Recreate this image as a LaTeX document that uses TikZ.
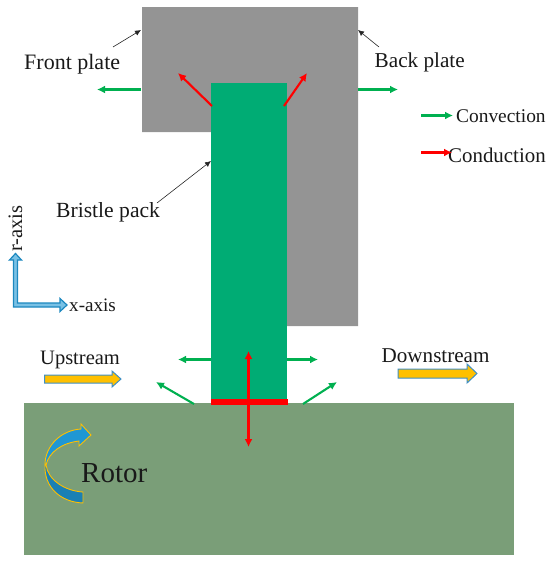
\documentclass[tikz,border=0pt]{standalone}
\usepackage{fontspec}
\setmainfont{Liberation Serif}
\usetikzlibrary{arrows.meta}
\definecolor{plategray}{HTML}{949494}
\definecolor{packgreen}{HTML}{00AC74}
\definecolor{rotorgreen}{HTML}{7A9E78}
\definecolor{convgreen}{HTML}{00B050}
\definecolor{axisblue}{HTML}{1F97D4}
\definecolor{flowyellow}{HTML}{FFC000}
\definecolor{flowedge}{HTML}{3F8FC4}
\tikzset{
  x=1pt,y=-1pt,
  lbl/.style={inner sep=0pt,anchor=base west,text=black!90,font=\fontsize{#1}{24}\selectfont},
  pointer/.style={draw=black!85,line width=0.6pt,-{Latex[length=6pt,width=5.5pt]}},
  conv/.style={draw=convgreen,line width=2.1pt,-{Latex[length=8pt,width=8pt]}},
  cond/.style={draw=red,line width=2.1pt,-{Latex[length=8pt,width=8pt]}},
  blockarrow/.style={draw=flowedge,fill=flowyellow,line width=1pt,line join=miter},
}
\begin{document}
\begin{tikzpicture}
\useasboundingbox (0,0) rectangle (550,565);
% plates, rotor, pack
\fill[plategray] (142,7) -- (358,7) -- (358,326) -- (287,326) -- (287,132) -- (142,132) -- cycle;
\fill[rotorgreen] (24,403) rectangle (514,555);
\fill[packgreen] (211,83) rectangle (287,403);
\fill[red] (211,399) rectangle (288,405);
% labels
\node[lbl=22] (front) at (24,69) {Front plate};
\node[lbl=21.2] (back) at (374.5,67) {Back plate};
\node[lbl=21.6] (pack) at (56,217) {Bristle pack};
\node[lbl=19.4] (convl) at (456,122) {Convection};
\node[lbl=20.9] (condl) at (448,162) {Conduction};
\node[lbl=20.5] (up) at (40,364) {Upstream};
\node[lbl=21.1] (down) at (381.5,362) {Downstream};
\node[lbl=19.1] (xl) at (69,311) {x-axis};
\node[lbl=20.5,rotate=90] (rl) at (22,252) {r-axis};
\node[lbl=29] (rotor) at (81,482) {Rotor};
% pointers
\coordinate (fs) at (113,47); \coordinate (fe) at (141,30);
\coordinate (bs) at (379,47); \coordinate (be) at (358,30);
\coordinate (ps) at (157,203); \coordinate (pe) at (211,161);
\draw[pointer] (fs) -- (fe);
\draw[pointer] (bs) -- (be);
\draw[pointer] (ps) -- (pe);
% convection
\coordinate (c1s) at (141,89.5); \coordinate (c1e) at (97,89.5);
\coordinate (c2s) at (358,89.5); \coordinate (c2e) at (398,89.5);
\coordinate (c3s) at (421,115.5); \coordinate (c3e) at (453,115.5);
\coordinate (c4s) at (211,359.5); \coordinate (c4e) at (178,359.5);
\coordinate (c5s) at (287,359.5); \coordinate (c5e) at (318,359.5);
\coordinate (c6s) at (194,404); \coordinate (c6e) at (156,382);
\coordinate (c7s) at (303,404); \coordinate (c7e) at (337,382);
\foreach \n in {1,...,7} \draw[conv] (c\n s) -- (c\n e);
% conduction
\coordinate (r1s) at (212,106); \coordinate (r1e) at (178,73);
\coordinate (r2s) at (284,106); \coordinate (r2e) at (307,73);
\coordinate (r3s) at (421,152.5); \coordinate (r3e) at (452,152.5);
\coordinate (r4s) at (248.5,447); \coordinate (r4e) at (248.5,351);
\draw[cond] (r1s) -- (r1e);
\draw[cond] (r2s) -- (r2e);
\draw[cond] (r3s) -- (r3e);
\draw[cond,{Latex[length=8pt,width=8pt]}-{Latex[length=8pt,width=8pt]}] (r4s) -- (r4e);
% axes
\draw[draw=axisblue!90!black,fill=axisblue!60,line width=1.2pt,line join=miter]
  (13.5,306.5) -- (13.5,260) -- (9.5,260) -- (15.5,253.5) -- (21.5,260) -- (17.5,260)
  -- (17.5,303) -- (60,303) -- (60,298.5) -- (67,305) -- (60,311.5) -- (60,307) -- (13.5,307) -- cycle;
% flow arrows
\draw[blockarrow] (44.5,375) -- (112,375) -- (112,371) -- (121,379) -- (112,387) -- (112,383) -- (44.5,383) -- cycle;
\draw[blockarrow] (398,369) -- (467,369) -- (467,364) -- (477,373.5) -- (467,383) -- (467,378) -- (398,378) -- cycle;
% rotation arrow
\draw[draw=flowyellow,fill=axisblue!85!black,line width=0.9pt,line join=miter]
  (46,465) .. controls (48,480) and (65,491) .. (83,492) -- (83,503)
  .. controls (60,502) and (44,487) .. (45,465) -- cycle;
\draw[draw=flowyellow,fill=axisblue,line width=0.9pt,line join=miter]
  (45,465) .. controls (45,445) and (62,430) .. (81,429) -- (81,424) -- (91,435) -- (79,446) -- (79,441)
  .. controls (62,443) and (49,452) .. (46,465) -- cycle;
\end{tikzpicture}
\end{document}
